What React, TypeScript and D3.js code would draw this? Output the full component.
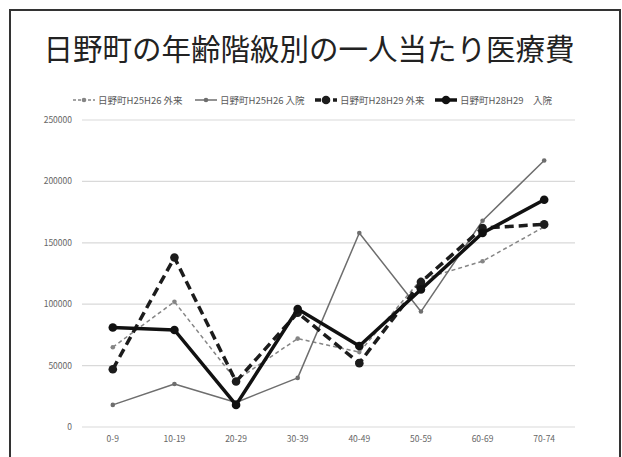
import React from 'react';
import * as d3 from 'd3';

const ageGroups = ['0-9', '10-19', '20-29', '30-39', '40-49', '50-59', '60-69', '70-74'];

const h2526Gairai = [65000, 102000, 38000, 72000, 61000, 120000, 135000, 163000];
const h2526Nyuin = [18000, 35000, 20000, 40000, 158000, 94000, 168000, 217000];
const h2829Gairai = [47000, 138000, 37000, 93000, 52000, 118000, 162000, 165000];
const h2829Nyuin = [81000, 79000, 18000, 96000, 66000, 112000, 158000, 185000];

const seriesNames = ['日野町H25H26 外来', '日野町H25H26 入院', '日野町H28H29 外来', '日野町H28H29　入院'];
const yTicks = [0, 50000, 100000, 150000, 200000, 250000];

const W = 622;
const H = 457;
const plot = { left: 82, right: 575, top: 120, bottom: 427 };

const styles = [
    { color: '#858585', width: 1.5, dash: '4,3', r: 2.3 },
    { color: '#6e6e6e', width: 1.5, dash: null, r: 2.3 },
    { color: '#1c1c1c', width: 3.5, dash: '9,5', r: 4.3 },
    { color: '#111111', width: 3.5, dash: null, r: 4.3 },
];

const legendX = [73, 195, 315, 435];

export default function App() {
    const x = d3.scaleBand<string>().domain(ageGroups).range([plot.left, plot.right]);
    const y = d3.scaleLinear().domain([0, 250000]).range([plot.bottom, plot.top]);
    const cx = (a: string) => (x(a) || 0) + x.bandwidth() / 2;

    const line = d3.line<number>()
        .x((_, i) => cx(ageGroups[i]))
        .y(d => y(d));

    const allSeries = [h2526Gairai, h2526Nyuin, h2829Gairai, h2829Nyuin];
    const font = '"Noto Sans CJK JP", "Noto Sans", sans-serif';

    return (
        <svg width={W} height={H} style={{ position: 'absolute', left: 0, top: 0, background: '#fff' }}
             fontFamily={font}>
            <rect x={10} y={10} width={610} height={H + 10} fill="#fff" stroke="#333" strokeWidth={2} />
            <text x={309} y={60} textAnchor="middle" fontSize={29.5} fill="#222">
                日野町の年齢階級別の一人当たり医療費
            </text>

            {/* legend */}
            {seriesNames.map((name, i) => {
                const s = styles[i];
                const lx = legendX[i];
                return (
                    <g key={name}>
                        <line x1={lx} x2={lx + 22} y1={100} y2={100} stroke={s.color}
                              strokeWidth={s.width} strokeDasharray={s.dash ? (i === 0 ? '3,2' : '6,3') : undefined} />
                        <circle cx={lx + 11} cy={100} r={s.r} fill={s.color} />
                        <text x={lx + 25} y={103.5} fontSize={9.5} fill="#595959">{name}</text>
                    </g>
                );
            })}

            {/* grid */}
            {yTicks.map(t => (
                <g key={t}>
                    <line x1={plot.left} x2={plot.right} y1={y(t)} y2={y(t)} stroke="#d9d9d9" strokeWidth={1.2} />
                    <text x={72} y={y(t) + 3} textAnchor="end" fontSize={8.5} fill="#666">{t}</text>
                </g>
            ))}
            {ageGroups.map(a => (
                <text key={a} x={cx(a)} y={442} textAnchor="middle" fontSize={8.5} fill="#666">{a}</text>
            ))}

            {/* series */}
            {allSeries.map((vals, i) => {
                const s = styles[i];
                return (
                    <g key={i}>
                        <path d={line(vals) || ''} fill="none" stroke={s.color} strokeWidth={s.width}
                              strokeDasharray={s.dash || undefined} strokeLinejoin="round" />
                        {vals.map((v, j) => (
                            <circle key={j} cx={cx(ageGroups[j])} cy={y(v)} r={s.r} fill={s.color} />
                        ))}
                    </g>
                );
            })}
        </svg>
    );
}
